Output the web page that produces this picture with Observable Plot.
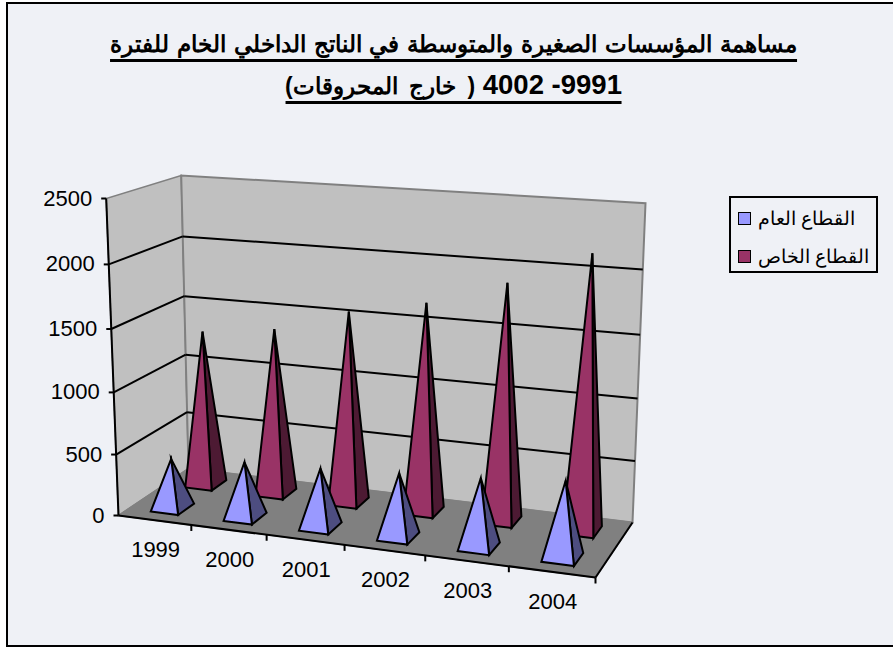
<!DOCTYPE html>
<html lang="ar">
<head>
<meta charset="utf-8">
<script src="https://cdn.jsdelivr.net/npm/d3@7"></script>
<script src="https://cdn.jsdelivr.net/npm/@observablehq/plot@0.6"></script>
<style>
html,body{margin:0;padding:0;background:#fff;width:893px;height:648px;overflow:hidden}
#page{position:relative;width:893px;height:648px;overflow:hidden}
#frame{position:absolute;left:6px;top:2px;width:900px;height:641px;border:2px solid #000;background:#eff1f6}
#chart{position:absolute;left:0;top:0}
#title{position:absolute;left:0;top:0;width:893px;font:bold 23px "Liberation Sans",Arial,sans-serif;color:#000}
#title div{position:absolute;white-space:nowrap;direction:rtl;line-height:30px;border-bottom:3px solid #000;text-align:center;transform:translateX(-50%)}
#title .l1{word-spacing:1.6px}
#title .d{font-size:27.5px}
#title .a{word-spacing:5px}
#legend{position:absolute;left:729px;top:196px;width:145px;height:73px;border:2px solid #000;font:19px "Liberation Sans",Arial,sans-serif;color:#000}
.row{position:absolute;left:7px;display:flex;align-items:center;gap:7px;white-space:nowrap}
.sw{display:inline-block;width:11px;height:11px;border:1.5px solid #000}
</style>
</head>
<body>
<div id="page">
  <div id="frame"></div>
  <div id="chart"></div>
  <div id="title"></div>
  <div id="legend"></div>
</div>
<script>
// ---- chart values ----
const titleLines = ["مساهمة المؤسسات الصغيرة والمتوسطة في الناتج الداخلي الخام للفترة", "9991- 4002 ( خارج المحروقات)"];
const years = [1999, 2000, 2001, 2002, 2003, 2004];
const publicSector = [405, 450, 470, 505, 540, 595];
const privateSector = [1295, 1370, 1565, 1685, 1890, 2160];
const seriesNames = ["القطاع العام", "القطاع الخاص"];
const valueTicks = [0, 500, 1000, 1500, 2000, 2500];
const gridValues = [500, 1000, 1500, 2000];

// ---- look ----
const W = 893, H = 648;
const colPublic = "#9999ff", colPublicDark = "#4d4d80";
const colPrivate = "#993366", colPrivateDark = "#4d1a33";
const colWall = "#c0c0c0", colFloor = "#808080", colEdge = "#808080";
const vMax = 2500;

// ---- oblique 3D view: box corners on the page ----
const base = {fl:[118,515], fr:[595,577], bl:[188,468], br:[632,522]};
const top3 = {fl:[105.7,198], fr:[613,233], bl:[180.7,175], br:[645,202.7]};
const persp = (t, k) => t / (1 - k + k * t);
function mix(a, b, t) { return [a[0] + (b[0] - a[0]) * t, a[1] + (b[1] - a[1]) * t]; }
function quad(q, s, v) { return mix(mix(q.fl, q.fr, s), mix(q.bl, q.br, s), v); }
// u: category position 0..6, v: depth 0..1, h: value
function P(u, v, h) {
  const s = persp(u / years.length, -0.11);
  const d = persp(v, 0.08);
  const t = persp(h / vMax, -0.05);
  return mix(quad(base, s, d), quad(top3, s, d), t);
}
const pt = (p, extra = {}) => ({x: p[0], y: p[1], ...extra});

// ---- marks ----
const scaleOpts = {x:{domain:[0,W],range:[0,W]}, y:{domain:[0,H],range:[0,H]}};
function poly(points, fill, stroke, sw = 2) {
  const closed = [...points, points[0], points[1]].map(p => pt(p));
  return Plot.line(closed, {x:"x", y:"y", fill, stroke, strokeWidth:sw, strokeLinejoin:"miter", strokeMiterlimit:6, curve:"linear"});
}
function seg(rows, stroke, sw) {
  return Plot.link(rows, {x1:d=>d[0][0], y1:d=>d[0][1], x2:d=>d[1][0], y2:d=>d[1][1], stroke, strokeWidth:sw});
}
function pyramid(uc, depth, value, light, dark) {
  const hu = 0.19, hv = 0.115;
  const fl = P(uc - hu, depth - hv, 0), fr = P(uc + hu, depth - hv, 0), br = P(uc + hu, depth + hv, 0);
  const apex = P(uc, depth, value);
  return [poly([fr, br, apex], dark, "#000"), poly([fl, fr, apex], light, "#000")];
}
const n = years.length;
const marks = [
  poly([P(0,0,0), P(0,1,0), P(0,1,vMax), P(0,0,vMax)], colWall, colEdge, 1.5),
  poly([P(0,1,0), P(n,1,0), P(n,1,vMax), P(0,1,vMax)], colWall, colEdge, 2),
  seg(gridValues.map(h => [P(0,0,h), P(0,1,h)]), "#000", 2),
  seg(gridValues.map(h => [P(0,1,h), P(n,1,h)]), "#000", 2),
  poly([P(0,0,0), P(n,0,0), P(n,1,0), P(0,1,0)], colFloor, colEdge, 1.5),
  seg([[P(0,0,0), P(0,0,vMax)], [P(0,0,0), P(n,0,0)], [P(n,0,0), P(n,1,0)]], "#000", 2),
  seg(valueTicks.map(h => { const p = P(0,0,h); return [[p[0]-5, p[1]], p]; }), "#000", 2),
  seg(d3.range(1, n + 1).map(i => { const p = P(i,0,0); return [p, [p[0], p[1]+6]]; }), "#000", 2),
  ...years.flatMap((_, i) => pyramid(i + 0.495, 0.75, privateSector[i], colPrivate, colPrivateDark)),
  ...years.flatMap((_, i) => pyramid(i + 0.5, 0.25, publicSector[i], colPublic, colPublicDark)),
  Plot.text(valueTicks, {
    x: h => P(0,0,h)[0] - 14, y: h => P(0,0,h)[1], text: h => String(h),
    textAnchor:"end", fontSize:22, fontFamily:"Liberation Sans", fill:"#000"
  }),
  Plot.text(years, {
    x: (_, i) => P(i+0.5,0,0)[0] + 1, y: (_, i) => P(i+0.5,0,0)[1] + 30, text: d => String(d),
    fontSize:22, fontFamily:"Liberation Sans", fill:"#000"
  })
];
const chart = Plot.plot({width:W, height:H, margin:0, ...scaleOpts, style:{background:"transparent"}, marks:[...marks]});
chart.querySelectorAll('[aria-label^="x-axis"],[aria-label^="y-axis"]').forEach(e => e.remove());
document.getElementById("chart").append(chart);

// ---- title & legend ----
const titleEl = document.getElementById("title");
[[453.5,29],[453.5,70]].forEach(([cx, top], i) => {
  const d = document.createElement("div");
  const m = titleLines[i].match(/^[\d\- ]+/);
  d.innerHTML = m ? `<span class="d">${m[0]}</span><span class="a">${titleLines[i].slice(m[0].length)}</span>` : titleLines[i];
  if (!m) d.className = "l1";
  d.style.left = cx + "px"; d.style.top = top + "px";
  titleEl.append(d);
});
const legendEl = document.getElementById("legend");
[[colPublic, 9],[colPrivate, 46.5]].forEach(([c, top], i) => {
  const r = document.createElement("div");
  r.className = "row"; r.style.top = top + "px";
  r.innerHTML = `<span class="sw" style="background:${c}"></span><span dir="rtl">${seriesNames[i]}</span>`;
  legendEl.append(r);
});
</script>
</body>
</html>
